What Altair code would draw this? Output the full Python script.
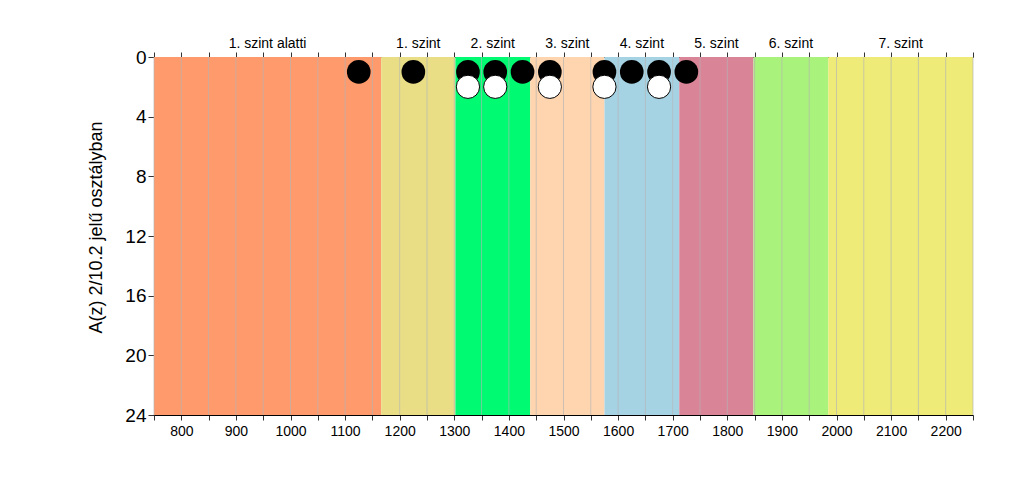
import altair as alt
import pandas as pd

# Level bands (score ranges)
level_names = ["1. szint alatti", "1. szint", "2. szint", "3. szint", "4. szint", "5. szint", "6. szint", "7. szint"]
level_start = [750, 1166, 1302, 1439, 1575, 1712, 1848, 1985]
level_end = [1166, 1302, 1439, 1575, 1712, 1848, 1985, 2250]
level_colors = ["#FF9A6C", "#E9DE86", "#00FA72", "#FFD5AF", "#A6D3E3", "#DA8597", "#A9F27B", "#EEEB79"]

# Points (black: row 1, white: row 2)
black_x = [1125, 1225, 1325, 1375, 1425, 1475, 1575, 1625, 1675, 1725]
black_y = [1] * len(black_x)
white_x = [1325, 1375, 1475, 1575, 1675]
white_y = [2] * len(white_x)

tick_vals = list(range(750, 2251, 50))
y_ticks = [0, 4, 8, 12, 16, 20, 24]

bands = pd.DataFrame({"name": level_names, "start": level_start, "end": level_end, "color": level_colors})
bands["mid"] = (bands["start"] + bands["end"]) / 2
grid = pd.DataFrame({"x": tick_vals})
pts_black = pd.DataFrame({"x": black_x, "y": black_y})
pts_white = pd.DataFrame({"x": white_x, "y": white_y})

xscale = alt.Scale(domain=[750, 2250], nice=False, zero=False)
yscale = alt.Scale(domain=[0, 24], reverse=True, nice=False)

font = "Arial, Liberation Sans, sans-serif"

rects = alt.Chart(bands).mark_rect().encode(
    x=alt.X("start:Q", scale=xscale,
            axis=alt.Axis(orient="bottom", values=tick_vals,
                          labelExpr="datum.value % 100 == 0 ? datum.value : ''",
                          title=None, grid=False, tickSize=5, tickColor="#333", domainColor="#000",
                          labelFont=font, labelFontSize=14, labelColor="#000", labelPadding=4)),
    x2="end:Q",
    y=alt.value(0),
    y2=alt.value(358),
    color=alt.Color("color:N", scale=None),
)

top_axis = alt.Chart(bands).mark_rect(opacity=0).transform_calculate(y0="0", y1="24").encode(
    x=alt.X("start:Q", scale=xscale,
            axis=alt.Axis(orient="top", values=tick_vals, labels=False, title=None, grid=False,
                          tickSize=5, tickColor="#333", domainColor="#000")),
    x2="end:Q",
    y=alt.Y("y0:Q", scale=yscale,
            axis=alt.Axis(values=y_ticks, title="A(z) 2/10.2 jelű osztályban", grid=False,
                          tickSize=6, tickColor="#333", domainColor="#000",
                          labelFont=font, labelFontSize=19, labelColor="#000", labelPadding=2,
                          titleFont=font, titleFontSize=18, titleFontWeight="normal", titleColor="#000",
                          titlePadding=19, titleY=170)),
    y2="y1:Q",
)

gridlines = alt.Chart(grid).mark_rule(color="#b4b4b4", strokeWidth=1, opacity=0.65).encode(
    x=alt.X("x:Q", scale=xscale, axis=None),
    y=alt.value(0),
    y2=alt.value(358),
)

labels = alt.Chart(bands).mark_text(font=font, fontSize=14, color="#000", baseline="middle").encode(
    x=alt.X("mid:Q", scale=xscale, axis=None),
    y=alt.value(-13),
    text="name:N",
)

black = alt.Chart(pts_black).mark_point(filled=True, shape="circle", size=560, color="#000", opacity=1).encode(
    x=alt.X("x:Q", scale=xscale, axis=None),
    y=alt.Y("y:Q", scale=yscale, axis=None),
)

white = alt.Chart(pts_white).mark_point(filled=True, shape="circle", size=540, fill="#fff",
                                        stroke="#000", strokeWidth=1, opacity=1).encode(
    x=alt.X("x:Q", scale=xscale, axis=None),
    y=alt.Y("y:Q", scale=yscale, axis=None),
)

chart = alt.layer(rects, gridlines, top_axis, labels, black, white).resolve_axis(
    x="independent", y="independent"
).properties(
    width=819, height=358,
    autosize=alt.AutoSizeParams(type="none"),
    padding={"left": 146, "top": 49, "right": 43, "bottom": 55},
    background="#ffffff",
).configure_view(stroke=None)

chart.save("out.html", embed_options={"renderer": "svg", "actions": False})
